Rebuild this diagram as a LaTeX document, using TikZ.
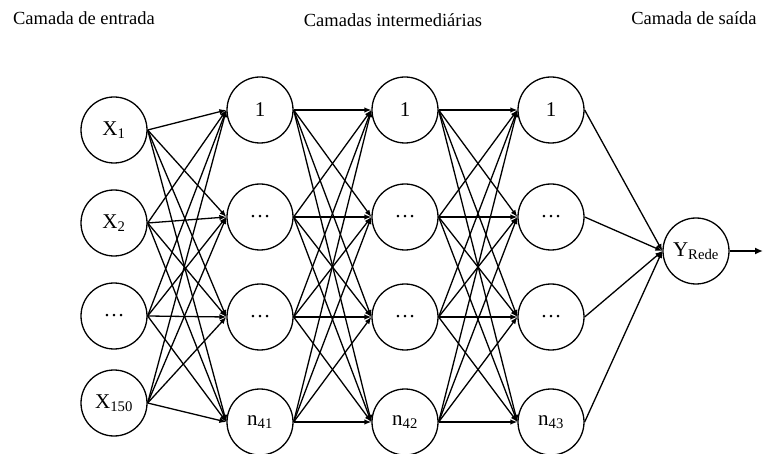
\documentclass[tikz,border=0pt]{standalone}
\usepackage{fontspec}
\setmainfont{Liberation Serif}
\usetikzlibrary{arrows.meta}
\begin{document}
\begin{tikzpicture}[x=1pt,y=-1pt,
  neuron/.style={draw, circle, line width=1.3pt, minimum size=66pt, inner sep=0pt,
                 font=\fontsize{21}{24}\selectfont},
  link/.style={line width=1.3pt, -{Latex[length=7pt,width=5.5pt]}},
  outlink/.style={line width=2.4pt, -{Latex[length=8pt,width=7pt]}},
  title/.style={font=\fontsize{18.5}{21}\selectfont, anchor=base}]
\useasboundingbox (0,0) rectangle (763,454);

% layer titles
\node[title] (t1) at (84,25) {Camada de entrada};
\node[title] (t2) at (393,27) {Camadas intermediárias};
\node[title] (t3) at (694,25) {Camada de saída};

% input layer
\node[neuron] (i1) at (114,130) {X\textsubscript{1}};
\node[neuron] (i2) at (114,223) {X\textsubscript{2}};
\node[neuron] (i3) at (114,316) {\ldots};
\node[neuron] (i4) at (114,403) {X\textsubscript{150}};

% hidden layers
\foreach \l/\x/\n in {a/260/41, b/405/42, c/551/43} {
  \node[neuron] (\l1) at (\x,110) {1};
  \node[neuron] (\l2) at (\x,217) {\ldots};
  \node[neuron] (\l3) at (\x,317) {\ldots};
  \node[neuron] (\l4) at (\x,422) {n\textsubscript{\n}};
}

% output layer
\node[neuron] (y) at (696,251) {Y\textsubscript{Rede}};
\coordinate (out) at (763,251);

% fully connected links
\foreach \s/\t in {i/a, a/b, b/c} {
  \foreach \j in {1,...,4} {
    \foreach \k in {1,...,4} {
      \draw[link] (\s\j.east) -- (\t\k.west);
    }
  }
}
\foreach \j in {1,...,4} {
  \draw[link] (c\j.east) -- (y.west);
}
\draw[outlink] (y.east) -- (out);
\end{tikzpicture}
\end{document}
